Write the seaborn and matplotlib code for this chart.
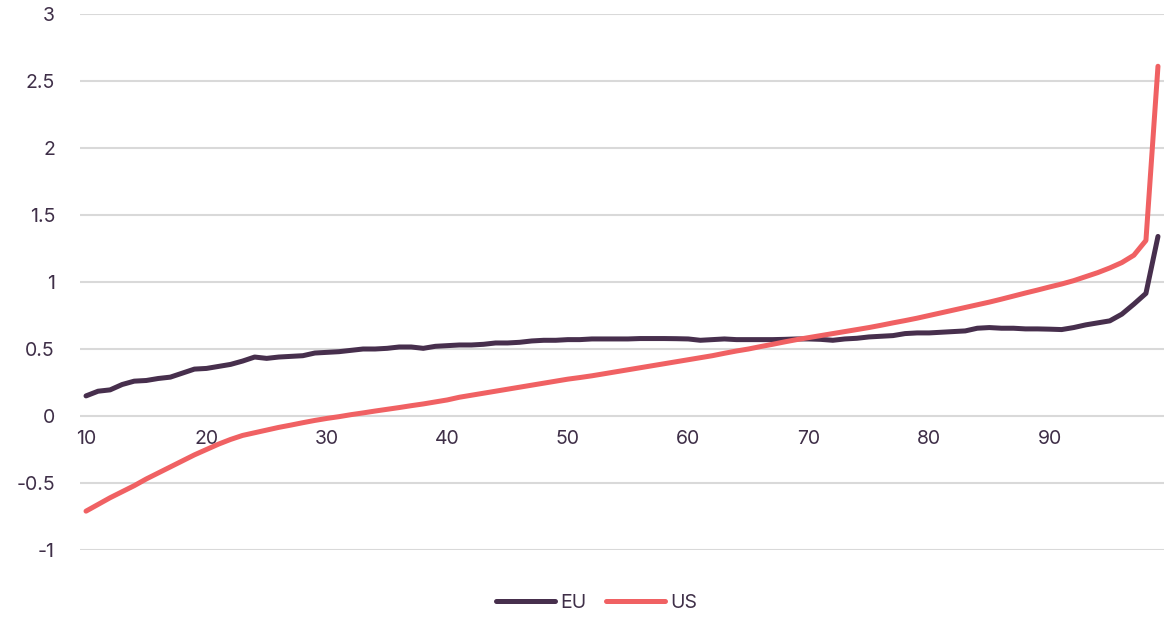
import matplotlib
matplotlib.use("Agg")
import matplotlib.pyplot as plt
import seaborn as sns
import pandas as pd

# Percentiles of the distribution
percentiles = list(range(10, 100))

eu_values = [
    0.15, 0.185, 0.195, 0.235, 0.26, 0.265, 0.28, 0.29, 0.32, 0.35,
    0.355, 0.37, 0.385, 0.41, 0.44, 0.43, 0.44, 0.445, 0.45, 0.47,
    0.475, 0.48, 0.49, 0.5, 0.5, 0.505, 0.515, 0.515, 0.505, 0.52,
    0.525, 0.53, 0.53, 0.535, 0.545, 0.545, 0.55, 0.56, 0.565, 0.565,
    0.57, 0.57, 0.575, 0.575, 0.575, 0.575, 0.578, 0.578, 0.578, 0.577,
    0.575, 0.565, 0.57, 0.575, 0.57, 0.57, 0.57, 0.57, 0.572, 0.575,
    0.575, 0.572, 0.565, 0.575, 0.58, 0.59, 0.595, 0.6, 0.615, 0.62,
    0.62, 0.625, 0.63, 0.635, 0.655, 0.66, 0.655, 0.655, 0.65, 0.65,
    0.648, 0.645, 0.66, 0.68, 0.695, 0.71, 0.76, 0.835, 0.915, 1.34,
]

us_values = [
    -0.71, -0.66, -0.61, -0.565, -0.52, -0.47, -0.425, -0.38, -0.335, -0.29,
    -0.25, -0.21, -0.175, -0.145, -0.125, -0.105, -0.085, -0.068, -0.05, -0.033,
    -0.018, -0.005, 0.01, 0.023, 0.037, 0.05, 0.063, 0.077, 0.09, 0.105,
    0.12, 0.14, 0.155, 0.17, 0.185, 0.2, 0.215, 0.23, 0.245, 0.26,
    0.275, 0.287, 0.3, 0.315, 0.33, 0.345, 0.36, 0.375, 0.39, 0.405,
    0.42, 0.435, 0.45, 0.468, 0.485, 0.5, 0.518, 0.535, 0.553, 0.57,
    0.585, 0.6, 0.615, 0.63, 0.645, 0.66, 0.677, 0.695, 0.712, 0.73,
    0.75, 0.77, 0.79, 0.81, 0.83, 0.85, 0.872, 0.895, 0.918, 0.94,
    0.963, 0.985, 1.01, 1.04, 1.07, 1.105, 1.145, 1.2, 1.31, 2.61,
]

series_names = ["EU", "US"]
series_colors = {"EU": "#472f4d", "US": "#f06163"}

x_ticks = [10, 20, 30, 40, 50, 60, 70, 80, 90]
y_ticks = [-1, -0.5, 0, 0.5, 1, 1.5, 2, 2.5, 3]
y_tick_labels = ["-1", "-0.5", "0", "0.5", "1", "1.5", "2", "2.5", "3"]

df = pd.DataFrame({
    "percentile": percentiles * 2,
    "value": eu_values + us_values,
    "series": ["EU"] * len(eu_values) + ["US"] * len(us_values),
})

sns.set_theme(style="white")
plt.rcParams["font.family"] = ["Inter", "DejaVu Sans"]

text_color = "#3f2f48"
grid_color = "#d9d9d9"

fig = plt.figure(figsize=(11.64, 6.18), dpi=100)
ax = fig.add_axes([80 / 1164, 68 / 618, 1 - 80 / 1164, (550 - 14) / 618])

sns.lineplot(
    data=df, x="percentile", y="value", hue="series",
    hue_order=series_names, palette=series_colors,
    linewidth=3.6, ax=ax, legend=False,
    solid_capstyle="round", solid_joinstyle="round",
)

ax.set_xlim(9.5, 99.5)
ax.set_ylim(-1, 3)

for y in y_ticks:
    ax.axhline(y, color=grid_color, linewidth=1.5, zorder=0)

ax.set_yticks(y_ticks)
ax.set_yticklabels(y_tick_labels)
ax.set_xticks(x_ticks)
ax.set_xticklabels([str(t) for t in x_ticks])

for side in ["left", "right", "top"]:
    ax.spines[side].set_visible(False)
ax.spines["bottom"].set_position(("data", 0))
ax.spines["bottom"].set_visible(False)

ax.tick_params(axis="y", length=0, pad=18, labelsize=14, labelcolor=text_color)
ax.tick_params(axis="x", length=0, pad=10, labelsize=14, labelcolor=text_color)
ax.set_xlabel("")
ax.set_ylabel("")

handles = [
    plt.Line2D([], [], color=series_colors[name], linewidth=3.6,
               solid_capstyle="round")
    for name in series_names
]
fig.legend(
    handles, series_names, loc="center", bbox_to_anchor=(597 / 1164, 1 - 603 / 618),
    ncol=2, frameon=False, fontsize=14, handlelength=3.0, handletextpad=0.3,
    columnspacing=1.0, labelcolor=text_color,
)

fig.savefig("out.png", dpi=100)
